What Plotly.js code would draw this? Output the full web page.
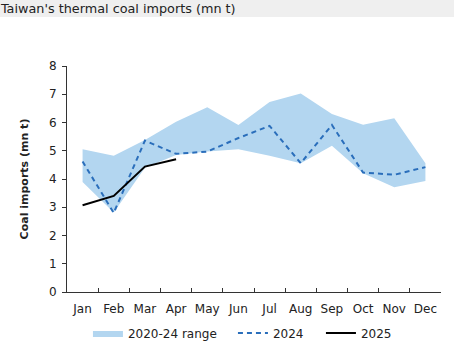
<!DOCTYPE html>
<html>
<head>
<meta charset="utf-8">
<script src="https://cdn.plot.ly/plotly-3.0.1.min.js"></script>
<style>
html,body{margin:0;padding:0;background:#fff;}
#chart{width:454px;height:357px;}
</style>
</head>
<body>
<div id="chart"></div>
<script>
const months = ["Jan","Feb","Mar","Apr","May","Jun","Jul","Aug","Sep","Oct","Nov","Dec"];
const rangeLow  = [3.89, 2.81, 4.40, 4.85, 4.97, 5.05, 4.82, 4.56, 5.18, 4.20, 3.71, 3.93];
const rangeHigh = [5.05, 4.82, 5.38, 6.03, 6.54, 5.91, 6.73, 7.03, 6.30, 5.92, 6.15, 4.56];
const y2024 = [4.62, 2.80, 5.36, 4.89, 4.97, 5.45, 5.88, 4.56, 5.91, 4.23, 4.15, 4.42];
const months2025 = ["Jan","Feb","Mar","Apr"];
const y2025 = [3.07, 3.40, 4.44, 4.70];

const font = "DejaVu Sans, Verdana, sans-serif";
const bandColor = "#b3d6f0";

const traces = [
  {x: months, y: rangeLow, type: "scatter", mode: "lines", line: {width: 0, color: bandColor},
   showlegend: false, hoverinfo: "skip"},
  {x: months, y: rangeHigh, type: "scatter", mode: "lines", fill: "tonexty", fillcolor: bandColor,
   line: {width: 0, color: bandColor}, name: "2020-24 range", legendwidth: 100},
  {x: months, y: y2024, type: "scatter", mode: "lines", name: "2024",
   line: {color: "#2a6ebb", width: 2, dash: "5px,4px"}, legendwidth: 43},
  {x: months2025, y: y2025, type: "scatter", mode: "lines", name: "2025",
   line: {color: "#000000", width: 2}, legendwidth: 40}
];

const layout = {
  width: 454, height: 357,
  margin: {l: 67, r: 13, t: 66, b: 65},
  paper_bgcolor: "#ffffff", plot_bgcolor: "#ffffff",
  font: {family: font, size: 12, color: "#222"},
  title: {text: "Taiwan's thermal coal imports (mn t)", x: 0.002, xref: "container", xanchor: "left",
          y: 0.977, yref: "container", yanchor: "middle", font: {family: font, size: 12.8, color: "#222"}},
  shapes: [{type: "rect", xref: "paper", yref: "paper", x0: -0.2, x1: 1.05, y0: 1.217, y1: 1.3,
            fillcolor: "#efefef", line: {width: 0}, layer: "below"}],
  xaxis: {type: "category", range: [-0.5, 11.5], tickson: "boundaries", ticks: "inside", ticklen: 4,
          tickangle: 0, automargin: false, ticklabelstandoff: 6,
          tickcolor: "#333", showline: true, linecolor: "#333", linewidth: 1, showgrid: false,
          zeroline: false, tickfont: {size: 12, color: "#222"}, fixedrange: true},
  yaxis: {range: [0, 8], dtick: 1, ticks: "outside", ticklen: 4, tickcolor: "#333", automargin: false,
          ticklabelstandoff: 3,
          showline: true, linecolor: "#333", linewidth: 1, showgrid: false, zeroline: false,
          tickfont: {size: 12, color: "#222"},
          title: {text: "<b>Coal imports (mn t)</b>", font: {size: 11, color: "#222"}, standoff: 18}},
  legend: {orientation: "h", traceorder: "normal", x: 0.056, xanchor: "left",
           yref: "container", y: 0.067, yanchor: "middle",
           font: {size: 12, color: "#222"}, bgcolor: "rgba(0,0,0,0)"},
  showlegend: true
};

Plotly.newPlot("chart", traces, layout, {displayModeBar: false, staticPlot: true});
</script>
</body>
</html>
